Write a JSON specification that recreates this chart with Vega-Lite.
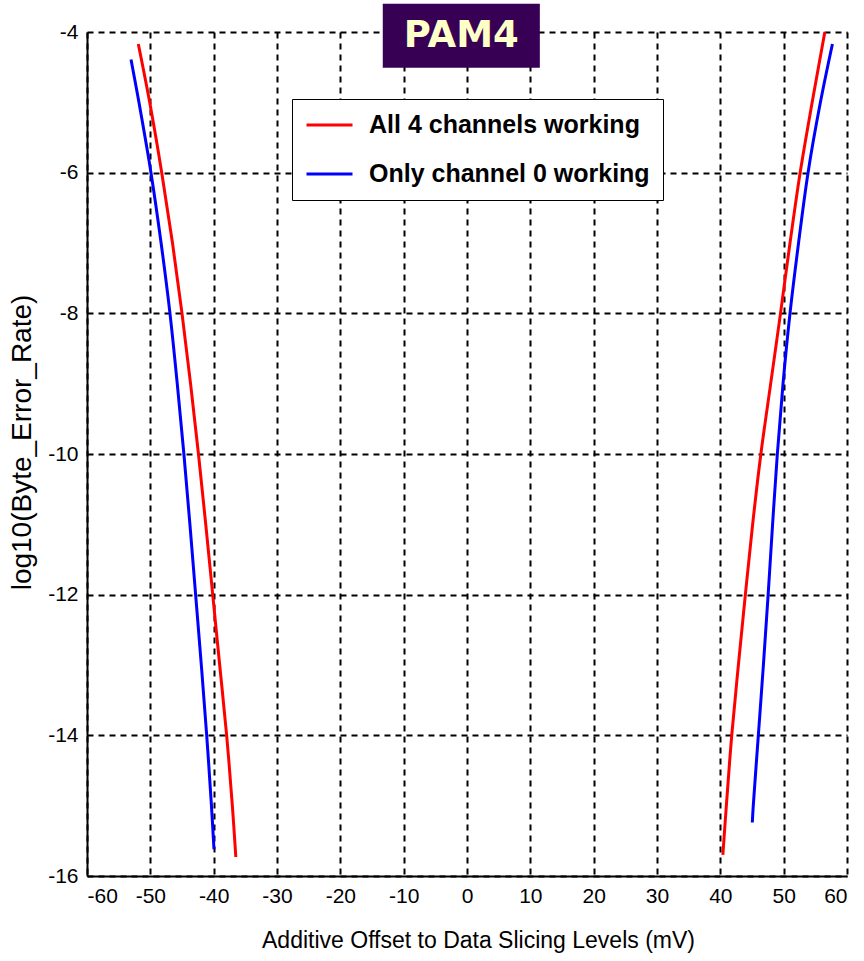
{
  "$schema": "https://vega.github.io/schema/vega-lite/v6.json",
  "width": 760,
  "height": 844,
  "autosize": {"type": "none"},
  "padding": {"left": 87, "top": 32, "right": 17, "bottom": 85},
  "background": "white",
  "config": {
    "view": {"stroke": null},
    "axis": {
      "grid": true,
      "gridColor": "black",
      "gridDash": [6, 5],
      "gridWidth": 2,
      "gridOpacity": 1,
      "domainColor": "black",
      "domainWidth": 2,
      "ticks": false,
      "labelFont": "Liberation Sans",
      "labelFontSize": 21,
      "labelColor": "black",
      "labelExpr": "'' + datum.value",
      "titleFont": "Liberation Sans",
      "titleFontWeight": "normal",
      "titleColor": "black"
    }
  },
  "datasets": {
    "ber": [
      {"series": "All 4 channels working", "branch": "neg", "offset": -51.9, "log_ber": -4.17},
      {"series": "All 4 channels working", "branch": "neg", "offset": -50.1, "log_ber": -5},
      {"series": "All 4 channels working", "branch": "neg", "offset": -48.2, "log_ber": -6},
      {"series": "All 4 channels working", "branch": "neg", "offset": -46.5, "log_ber": -7},
      {"series": "All 4 channels working", "branch": "neg", "offset": -45.0, "log_ber": -8},
      {"series": "All 4 channels working", "branch": "neg", "offset": -43.65, "log_ber": -9},
      {"series": "All 4 channels working", "branch": "neg", "offset": -42.4, "log_ber": -10},
      {"series": "All 4 channels working", "branch": "neg", "offset": -41.25, "log_ber": -11},
      {"series": "All 4 channels working", "branch": "neg", "offset": -40.15, "log_ber": -12},
      {"series": "All 4 channels working", "branch": "neg", "offset": -39.05, "log_ber": -13},
      {"series": "All 4 channels working", "branch": "neg", "offset": -37.95, "log_ber": -14},
      {"series": "All 4 channels working", "branch": "neg", "offset": -37.05, "log_ber": -15},
      {"series": "All 4 channels working", "branch": "neg", "offset": -36.5, "log_ber": -15.73},
      {"series": "Only channel 0 working", "branch": "neg", "offset": -53.05, "log_ber": -4.39},
      {"series": "Only channel 0 working", "branch": "neg", "offset": -51.8, "log_ber": -5},
      {"series": "Only channel 0 working", "branch": "neg", "offset": -49.9, "log_ber": -6},
      {"series": "Only channel 0 working", "branch": "neg", "offset": -48.3, "log_ber": -7},
      {"series": "Only channel 0 working", "branch": "neg", "offset": -46.9, "log_ber": -8},
      {"series": "Only channel 0 working", "branch": "neg", "offset": -45.75, "log_ber": -9},
      {"series": "Only channel 0 working", "branch": "neg", "offset": -44.7, "log_ber": -10},
      {"series": "Only channel 0 working", "branch": "neg", "offset": -43.75, "log_ber": -11},
      {"series": "Only channel 0 working", "branch": "neg", "offset": -42.85, "log_ber": -12},
      {"series": "Only channel 0 working", "branch": "neg", "offset": -41.95, "log_ber": -13},
      {"series": "Only channel 0 working", "branch": "neg", "offset": -41.1, "log_ber": -14},
      {"series": "Only channel 0 working", "branch": "neg", "offset": -40.35, "log_ber": -15},
      {"series": "Only channel 0 working", "branch": "neg", "offset": -39.95, "log_ber": -15.62},
      {"series": "All 4 channels working", "branch": "pos", "offset": 40.4, "log_ber": -15.7},
      {"series": "All 4 channels working", "branch": "pos", "offset": 40.95, "log_ber": -15},
      {"series": "All 4 channels working", "branch": "pos", "offset": 41.8, "log_ber": -14},
      {"series": "All 4 channels working", "branch": "pos", "offset": 42.85, "log_ber": -13},
      {"series": "All 4 channels working", "branch": "pos", "offset": 43.95, "log_ber": -12},
      {"series": "All 4 channels working", "branch": "pos", "offset": 45.1, "log_ber": -11},
      {"series": "All 4 channels working", "branch": "pos", "offset": 46.4, "log_ber": -10},
      {"series": "All 4 channels working", "branch": "pos", "offset": 47.95, "log_ber": -9},
      {"series": "All 4 channels working", "branch": "pos", "offset": 49.5, "log_ber": -8},
      {"series": "All 4 channels working", "branch": "pos", "offset": 51.0, "log_ber": -7},
      {"series": "All 4 channels working", "branch": "pos", "offset": 52.6, "log_ber": -6},
      {"series": "All 4 channels working", "branch": "pos", "offset": 54.5, "log_ber": -5},
      {"series": "All 4 channels working", "branch": "pos", "offset": 56.5, "log_ber": -4.0},
      {"series": "Only channel 0 working", "branch": "pos", "offset": 45.05, "log_ber": -15.24},
      {"series": "Only channel 0 working", "branch": "pos", "offset": 45.2, "log_ber": -15},
      {"series": "Only channel 0 working", "branch": "pos", "offset": 46.0, "log_ber": -14},
      {"series": "Only channel 0 working", "branch": "pos", "offset": 46.8, "log_ber": -13},
      {"series": "Only channel 0 working", "branch": "pos", "offset": 47.55, "log_ber": -12},
      {"series": "Only channel 0 working", "branch": "pos", "offset": 48.25, "log_ber": -11},
      {"series": "Only channel 0 working", "branch": "pos", "offset": 49.0, "log_ber": -10},
      {"series": "Only channel 0 working", "branch": "pos", "offset": 49.9, "log_ber": -9},
      {"series": "Only channel 0 working", "branch": "pos", "offset": 51.0, "log_ber": -8},
      {"series": "Only channel 0 working", "branch": "pos", "offset": 52.35, "log_ber": -7},
      {"series": "Only channel 0 working", "branch": "pos", "offset": 53.85, "log_ber": -6},
      {"series": "Only channel 0 working", "branch": "pos", "offset": 55.8, "log_ber": -5},
      {"series": "Only channel 0 working", "branch": "pos", "offset": 57.7, "log_ber": -4.17}
    ],
    "heading": [{"label": "PAM4"}]
  },
  "layer": [
    {
      "data": {"name": "ber"},
      "mark": {"type": "line", "strokeWidth": 3, "interpolate": "catmull-rom"},
      "encoding": {
        "x": {
          "field": "offset",
          "type": "quantitative",
          "scale": {"domain": [-60, 60], "nice": false, "zero": false},
          "axis": {
            "values": [-60, -50, -40, -30, -20, -10, 0, 10, 20, 30, 40, 50, 60],
            "labelPadding": 9,
            "title": "Additive Offset to Data Slicing Levels (mV)",
            "titleFontSize": 23,
            "titlePadding": 23,
            "titleX": 391
          }
        },
        "y": {
          "field": "log_ber",
          "type": "quantitative",
          "scale": {"domain": [-16, -4], "nice": false, "zero": false},
          "axis": {
            "values": [-16, -14, -12, -10, -8, -6, -4],
            "labelPadding": 9,
            "title": "log10(Byte_Error_Rate)",
            "titleFontSize": 28,
            "titlePadding": 11,
            "titleY": 410
          }
        },
        "color": {
          "field": "series",
          "type": "nominal",
          "scale": {
            "domain": ["All 4 channels working", "Only channel 0 working"],
            "range": ["#ff0000", "#0000ff"]
          },
          "legend": {
            "title": null,
            "orient": "none",
            "legendX": 205,
            "legendY": 67,
            "direction": "vertical",
            "symbolType": "M-1,0H3",
            "symbolSize": 529,
            "symbolStrokeWidth": 3,
            "labelFont": "Liberation Sans",
            "labelFontSize": 25,
            "labelFontWeight": "bold",
            "labelColor": "black",
            "labelOffset": 38,
            "labelLimit": 400,
            "rowPadding": 23,
            "padding": 13,
            "fillColor": "white",
            "strokeColor": "black",
            "cornerRadius": 0
          }
        },
        "order": {"field": "log_ber", "type": "quantitative"},
        "detail": {"field": "branch", "type": "nominal"}
      }
    },
    {
      "data": {"name": "heading"},
      "mark": {"type": "rect", "color": "#370055"},
      "encoding": {
        "x": {"datum": -13.3, "type": "quantitative"},
        "x2": {"datum": 11.5},
        "y": {"datum": -3.6, "type": "quantitative"},
        "y2": {"datum": -4.51}
      }
    },
    {
      "data": {"name": "heading"},
      "mark": {
        "type": "text",
        "font": "DejaVu Sans",
        "fontWeight": "bold",
        "fontSize": 37,
        "color": "#ffffc8",
        "align": "center",
        "baseline": "middle"
      },
      "encoding": {
        "x": {"datum": -0.9, "type": "quantitative"},
        "y": {"datum": -4.06, "type": "quantitative"},
        "text": {"field": "label", "type": "nominal"}
      }
    }
  ]
}
